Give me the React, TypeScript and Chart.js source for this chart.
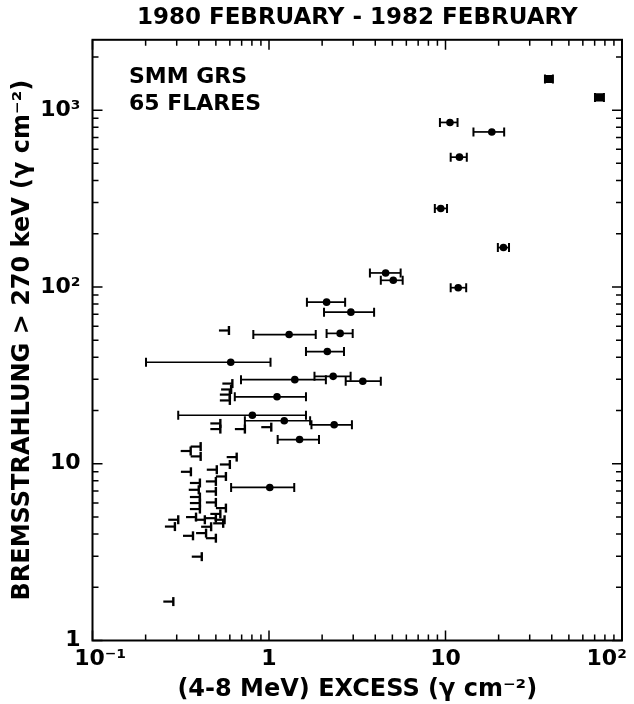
import React, { useEffect, useRef } from 'react';
import { Chart, registerables } from 'chart.js';

Chart.register(...registerables);

// ---------- text ----------
const TITLE = '1980 FEBRUARY - 1982 FEBRUARY';
const X_TITLE = '(4-8 MeV) EXCESS (γ cm⁻²)';
const Y_TITLE = 'BREMSSTRAHLUNG > 270 keV (γ cm⁻²)';
const NOTE_LINES = ['SMM GRS', '65 FLARES'];

// ---------- axes ----------
const X_MIN = 0.1;
const X_MAX = 100;
const Y_MIN = 1;
const Y_MAX = 2500;
const xTickValues = [0.1, 1, 10, 100];
const xTickLabels = ['  10⁻¹', '1', '10', '10²    '];
const yTickValues = [1, 10, 100, 1000];
const yTickLabels = ['1', '10', '10²', '10³'];

// ---------- data: the two largest flares (square markers) ----------
const bigX = [38.6, 74];
const bigY = [1500, 1180];
const bigLo = [36.6, 70.3];
const bigHi = [40.6, 79];

// ---------- data: detections with horizontal error bars ----------
const detX = [10.6, 18.3, 12.0, 9.4, 21.3, 4.58, 5.06, 11.8, 2.12, 2.91, 1.30, 2.53, 2.14, 0.607, 1.40, 2.31, 3.40, 1.11, 0.805, 1.22, 2.34, 1.49, 1.01];
const detY = [852, 753, 542, 278, 167, 120, 109, 99, 82, 72, 53.8, 54.6, 43.1, 37.5, 29.9, 31.2, 29.3, 23.9, 18.8, 17.5, 16.6, 13.7, 7.34];
const detLo = [9.3, 14.4, 10.7, 8.7, 19.8, 3.73, 4.30, 10.7, 1.64, 2.05, 0.815, 2.12, 1.62, 0.201, 0.694, 1.81, 2.72, 0.64, 0.306, 0.73, 1.74, 1.12, 0.61];
const detHi = [11.7, 21.5, 13.2, 10.2, 22.9, 5.57, 5.72, 13.1, 2.70, 3.94, 1.84, 2.98, 2.66, 1.02, 2.10, 2.90, 4.30, 1.62, 1.62, 1.71, 2.95, 1.92, 1.39];

// ---------- data: upper limits in the 4-8 MeV excess ----------
const ulX = [0.593, 0.62, 0.61, 0.60, 0.60, 0.53, 0.53, 0.73, 1.03, 0.41, 0.41, 0.36, 0.656, 0.361, 0.60, 0.506, 0.570, 0.406, 0.50, 0.40, 0.50, 0.406, 0.406, 0.50, 0.406, 0.57, 0.386, 0.433, 0.306, 0.50, 0.56, 0.293, 0.371, 0.44, 0.50, 0.416, 0.287, 0.53, 0.55, 0.47];
const ulY = [56.7, 28.4, 26.3, 24.6, 22.8, 16.9, 15.7, 15.7, 16.1, 12.5, 11.0, 11.8, 10.9, 9.0, 9.9, 9.25, 8.47, 7.78, 7.94, 7.12, 6.97, 6.48, 5.99, 6.04, 5.54, 5.61, 4.99, 4.82, 4.82, 4.92, 4.82, 4.41, 3.91, 4.05, 3.79, 2.98, 1.66, 5.2, 4.6, 4.4];

const FAMILY = '"DejaVu Sans", sans-serif';

function logTickValues(min: number, max: number): number[] {
  const out: number[] = [];
  for (let e = Math.floor(Math.log10(min)); e <= Math.ceil(Math.log10(max)); e++) {
    for (let m = 1; m <= 9; m++) {
      const v = m * Math.pow(10, e);
      if (v >= min * 0.999 && v <= max * 1.001) out.push(v);
    }
  }
  return out;
}
const isDecade = (v: number) => Math.abs(Math.log10(v) - Math.round(Math.log10(v))) < 1e-6;

const decorPlugin = {
  id: 'decor',
  beforeDatasetsDraw(chart: any) {
    const { ctx, scales } = chart;
    const xs = scales.x;
    const ys = scales.y;
    ctx.save();
    ctx.strokeStyle = '#000';
    const bar = (lo: number, hi: number, yv: number) => {
      const x1 = xs.getPixelForValue(lo);
      const x2 = xs.getPixelForValue(hi);
      const py = ys.getPixelForValue(yv);
      ctx.lineWidth = 1.7;
      ctx.beginPath();
      ctx.moveTo(x1, py);
      ctx.lineTo(x2, py);
      ctx.stroke();
      ctx.lineWidth = 2;
      ctx.beginPath();
      ctx.moveTo(x1, py - 4.5);
      ctx.lineTo(x1, py + 4.5);
      ctx.moveTo(x2, py - 4.5);
      ctx.lineTo(x2, py + 4.5);
      ctx.stroke();
    };
    detX.forEach((_, i) => bar(detLo[i], detHi[i], detY[i]));
    bigX.forEach((_, i) => bar(bigLo[i], bigHi[i], bigY[i]));
    ctx.restore();
  },
  afterDatasetsDraw(chart: any) {
    const { ctx, chartArea: a } = chart;
    ctx.save();
    ctx.strokeStyle = '#000';
    ctx.fillStyle = '#000';
    // upper-limit glyphs on dataset 2
    const meta = chart.getDatasetMeta(2);
    meta.data.forEach((el: any) => {
      const { x, y } = el;
      ctx.lineWidth = 2.2;
      ctx.beginPath();
      ctx.moveTo(x - 10, y);
      ctx.lineTo(x, y);
      ctx.stroke();
      ctx.lineWidth = 2.4;
      ctx.beginPath();
      ctx.moveTo(x, y - 4.5);
      ctx.lineTo(x, y + 4.5);
      ctx.stroke();
    });
    // frame
    ctx.lineWidth = 2;
    ctx.strokeRect(a.left, a.top, a.right - a.left, a.bottom - a.top);
    // inward ticks on all four sides
    ctx.lineWidth = 1.5;
    const xs = chart.scales.x;
    const ys = chart.scales.y;
    ctx.beginPath();
    logTickValues(X_MIN, X_MAX).forEach((v) => {
      const px = xs.getPixelForValue(v);
      const len = isDecade(v) ? 10 : 6;
      ctx.moveTo(px, a.bottom);
      ctx.lineTo(px, a.bottom - len);
      ctx.moveTo(px, a.top);
      ctx.lineTo(px, a.top + len);
    });
    logTickValues(Y_MIN, Y_MAX).forEach((v) => {
      const py = ys.getPixelForValue(v);
      const len = isDecade(v) ? 10 : 6;
      ctx.moveTo(a.left, py);
      ctx.lineTo(a.left + len, py);
      ctx.moveTo(a.right, py);
      ctx.lineTo(a.right - len, py);
    });
    ctx.stroke();
    // note text
    ctx.font = `bold 22px ${FAMILY}`;
    ctx.textAlign = 'left';
    ctx.textBaseline = 'alphabetic';
    ctx.fillText(NOTE_LINES[0], a.left + 36.5, a.top + 43);
    ctx.fillText(NOTE_LINES[1], a.left + 36.5, a.top + 70);
    ctx.restore();
  },
};

export default function App() {
  const ref = useRef<HTMLCanvasElement>(null);
  useEffect(() => {
    const canvas = ref.current as HTMLCanvasElement;
    const tickFont = { family: FAMILY, size: 22, weight: 'bold' as const };
    const titleFont = { family: FAMILY, size: 24, weight: 'bold' as const };
    const chart = new Chart(canvas, {
      type: 'scatter',
      data: {
        datasets: [
          {
            label: 'detections',
            data: detX.map((x, i) => ({ x, y: detY[i] })),
            pointStyle: 'circle',
            pointRadius: 3.8,
            pointBorderWidth: 0,
            backgroundColor: '#000',
            borderColor: '#000',
          },
          {
            label: 'largest',
            data: bigX.map((x, i) => ({ x, y: bigY[i] })),
            pointStyle: 'rect',
            pointRadius: 5.8,
            pointBorderWidth: 0,
            backgroundColor: '#000',
            borderColor: '#000',
          },
          {
            label: 'upper limits',
            data: ulX.map((x, i) => ({ x, y: ulY[i] })),
            pointRadius: 0,
            backgroundColor: '#000',
            borderColor: '#000',
          },
        ],
      },
      options: {
        responsive: false,
        animation: false,
        devicePixelRatio: 1,
        layout: { padding: { left: 0, right: 12, top: 0, bottom: 0 } },
        plugins: {
          legend: { display: false },
          tooltip: { enabled: false },
          title: {
            display: true,
            text: TITLE,
            color: '#000',
            fullSize: false,
            font: { family: FAMILY, size: 23, weight: 'bold' },
            padding: { top: 4, bottom: 8.2 },
          },
        },
        scales: {
          x: {
            type: 'logarithmic',
            position: 'bottom',
            min: X_MIN,
            max: X_MAX,
            grid: { display: false, drawTicks: false },
            border: { display: false },
            afterBuildTicks: (s: any) => {
              s.ticks = xTickValues.map((v) => ({ value: v }));
            },
            ticks: {
              autoSkip: false,
              maxRotation: 0,
              padding: 6,
              color: '#000',
              font: tickFont,
              callback: (v: any) => {
                const i = xTickValues.findIndex((t) => Math.abs(t - Number(v)) < 1e-9 * t + 1e-12);
                return i >= 0 ? xTickLabels[i] : '';
              },
            },
            title: { display: true, text: X_TITLE, color: '#000', font: titleFont, padding: { top: 0, bottom: 0 } },
            afterFit: (s: any) => {
              s.height = 63.5;
              s.paddingLeft = 0;
              s.paddingRight = 0;
            },
          },
          y: {
            type: 'logarithmic',
            position: 'left',
            min: Y_MIN,
            max: Y_MAX,
            grid: { display: false, drawTicks: false },
            border: { display: false },
            afterBuildTicks: (s: any) => {
              s.ticks = yTickValues.map((v) => ({ value: v }));
            },
            ticks: {
              autoSkip: false,
              padding: 12,
              color: '#000',
              font: tickFont,
              callback: (v: any) => {
                const i = yTickValues.findIndex((t) => Math.abs(t - Number(v)) < 1e-9 * t);
                return i >= 0 ? yTickLabels[i] : '';
              },
            },
            title: { display: true, text: Y_TITLE, color: '#000', font: titleFont, padding: { top: 8, bottom: 0 } },
            afterFit: (s: any) => {
              s.width = 92.5;
              s.paddingTop = 0;
              s.paddingBottom = 0;
            },
          },
        },
      },
      plugins: [decorPlugin],
    } as any);
    return () => chart.destroy();
  }, []);
  return (
    <div style={{ position: 'fixed', left: 0, top: 0, width: 634, height: 704, background: '#fff' }}>
      <canvas ref={ref} width={634} height={704} style={{ display: 'block' }} />
    </div>
  );
}
